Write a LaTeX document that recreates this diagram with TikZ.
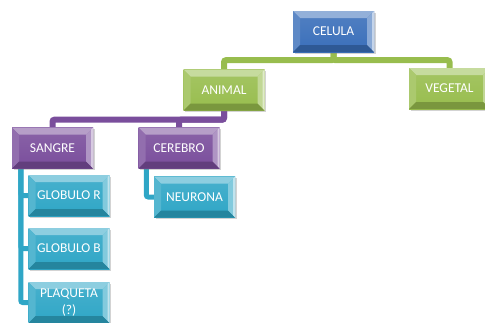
\documentclass[tikz,border=0pt]{standalone}
\usepackage{fontspec}
\setmainfont{Carlito}
\usetikzlibrary{shadows,backgrounds,calc}
\definecolor{cblue}{HTML}{3A6FBA}
\definecolor{cgreen}{HTML}{98BD4E}
\definecolor{cpurple}{HTML}{7A4E9C}
\definecolor{caqua}{HTML}{2FA6C6}
\tikzset{
  bev/.style={draw=none, minimum width=81pt, minimum height=41pt, inner sep=0pt,
    text=white, font=\fontsize{13.5}{17}\selectfont, align=center,
    top color=#1!88!white, bottom color=#1,
    drop shadow={shadow xshift=1.5pt,shadow yshift=-1.5pt,opacity=0.35},
    path picture={
      \path (path picture bounding box.north west) coordinate (@nw)
            (path picture bounding box.north east) coordinate (@ne)
            (path picture bounding box.south east) coordinate (@se)
            (path picture bounding box.south west) coordinate (@sw);
      \fill[#1!55!white] (@nw) -- (@ne) -- ($(@ne)+(-7pt,-7pt)$) -- ($(@nw)+(7pt,-7pt)$) -- cycle;
      \fill[#1!82!white] (@nw) -- ($(@nw)+(7pt,-7pt)$) -- ($(@sw)+(7pt,7pt)$) -- (@sw) -- cycle;
      \fill[#1!60!white] (@ne) -- ($(@ne)+(-7pt,-7pt)$) -- ($(@se)+(-7pt,7pt)$) -- (@se) -- cycle;
      \fill[#1!30!white] (@ne) -- ($(@ne)+(-2pt,-2pt)$) -- ($(@se)+(-2pt,2pt)$) -- (@se) -- cycle;
      \fill[#1!80!black] (@sw) -- ($(@sw)+(7pt,7pt)$) -- ($(@se)+(-7pt,7pt)$) -- (@se) -- cycle;
    }},
  conn/.style={line width=6pt, draw=#1, rounded corners=2pt},
}
\begin{document}
\begin{tikzpicture}[x=1pt,y=-1pt]
\useasboundingbox (0,0) rectangle (485,322);
\begin{scope}
\clip (0,0) rectangle (485,322);
\node[bev=cblue]   (celula)  at (333.5,31.5) {CELULA};
\node[bev=cgreen]  (animal)  at (224,90)     {ANIMAL};
\node[bev=cgreen]  (vegetal) at (449.5,88.5) {VEGETAL};
\node[bev=cpurple] (sangre)  at (52.5,148)   {SANGRE};
\node[bev=cpurple] (cerebro) at (179,148)    {CEREBRO};
\node[bev=caqua]   (gr)      at (69,195.5)   {GLOBULO R};
\node[bev=caqua]   (gb)      at (69,248.5)   {GLOBULO B};
\node[bev=caqua]   (pl)      at (69,302.5)   {PLAQUETA\\(?)};
\node[bev=caqua]   (neurona) at (194.5,197)  {NEURONA};
\begin{scope}[on background layer]
  \draw[conn=cgreen] (celula.south) -- ++(0,8) -| (animal.north);
  \draw[conn=cgreen] (celula.south) -- ++(0,8) -| (vegetal.north);
  \draw[conn=cpurple] (animal.south) -- ++(0,9) -| (sangre.north);
  \draw[conn=cpurple] (animal.south) -- ++(0,9) -| (cerebro.north);
  \draw[conn=caqua, line width=5pt] ([xshift=9pt]sangre.south west) |- (gr.west);
  \draw[conn=caqua, line width=5pt] ([xshift=9pt]sangre.south west) |- (gb.west);
  \draw[conn=caqua, line width=5pt] ([xshift=9pt]sangre.south west) |- (pl.west);
  \draw[conn=caqua, line width=5pt] ([xshift=8pt]cerebro.south west) |- (neurona.west);
\end{scope}
\end{scope}
\end{tikzpicture}
\end{document}
